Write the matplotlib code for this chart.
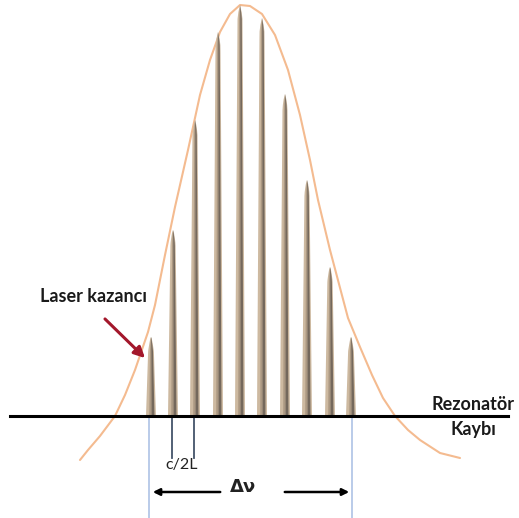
import numpy as np
import matplotlib.pyplot as plt

# longitudinal modes: position along the frequency axis and height above the loss line
mode_x = [151, 173, 195, 218, 240, 262, 285, 307, 330, 351]
mode_h = [79, 186, 296, 384, 411, 398, 322, 236, 149, 79]

# gain curve, read point by point (x, height above the loss line)
gain_x = [80, 88, 100, 115, 125, 135, 148, 155, 165, 175, 188, 200, 210, 220, 230, 240,
          250, 262, 275, 288, 300, 310, 318, 330, 348, 360, 372, 383, 395, 408, 420, 440, 460]
gain_y = [-44, -34, -20, 0, 21, 46, 84, 111, 161, 209, 266, 321, 356, 384, 402, 411,
          410, 402, 381, 346, 301, 256, 216, 166, 98, 69, 41, 18, 0, -14, -24, -37, -42]

fig = plt.figure(figsize=(5.19, 5.18), dpi=100)
ax = fig.add_axes([0, 0, 1, 1])
ax.set_xlim(0, 519)
ax.set_ylim(-102, 416)
ax.axis('off')

def spike(x, h):
    # needle shaped mode: pointed tip, slowly widening body
    d = np.linspace(0, h, 60)
    hw = 2.4 + 2.6 * d / h
    tip = np.clip(d / 14.0, 0, 1) ** 0.6
    hw = hw * tip
    ys = h - d
    xs = np.concatenate([x - hw, (x + hw)[::-1]])
    yy = np.concatenate([ys, ys[::-1]])
    ax.fill(xs, yy, color='#cdb9a0', lw=0, zorder=3)
    xs3 = np.concatenate([x - 0.35 * hw, (x + 0.1 * hw)[::-1]])
    ax.fill(xs3, yy, color='#ab9882', lw=0, zorder=4)
    xs2 = np.concatenate([x + 0.1 * hw, (x + 0.7 * hw)[::-1]])
    ax.fill(xs2, yy, color='#74685c', lw=0, zorder=4)

for i in range(len(mode_x)):
    spike(mode_x[i], mode_h[i])

ax.plot(gain_x, gain_y, color='#f4bb90', lw=1.5, zorder=2, solid_capstyle='round')

# resonator loss line
ax.plot([10, 508], [0, 0], color='black', lw=2.2, zorder=5)

# mode spacing and bandwidth markers
ax.plot([mode_x[0] - 2, mode_x[0] - 2], [-2, -102], color='#b4c7e7', lw=1.3, zorder=1)
ax.plot([mode_x[-1] + 1, mode_x[-1] + 1], [-2, -102], color='#b4c7e7', lw=1.3, zorder=1)
ax.plot([mode_x[1] - 1, mode_x[1] - 1], [-2, -42], color='#44546a', lw=1.3, zorder=1)
ax.plot([mode_x[2] - 1, mode_x[2] - 1], [-2, -42], color='#44546a', lw=1.3, zorder=1)
ax.text(182, -49, 'c/2L', fontsize=11.5, family=['Lato', 'DejaVu Sans'],
        ha='center', va='center', color='#222222')

ax.annotate('', xy=(mode_x[0] - 1, -76), xytext=(223, -76),
            arrowprops=dict(arrowstyle='-|>', color='black', lw=1.8, mutation_scale=10))
ax.annotate('', xy=(mode_x[-1] + 1, -76), xytext=(282, -76),
            arrowprops=dict(arrowstyle='-|>', color='black', lw=1.8, mutation_scale=10))
ax.text(243, -71, 'Δν', fontsize=13, fontweight='bold', family=['DejaVu Sans'],
        ha='center', va='center', color='#222222')

# labels
ax.text(93, 120, 'Laser kazancı', fontsize=13, fontweight='bold',
        family=['Lato', 'DejaVu Sans'], ha='center', va='center', color='#1a1a1a')
ax.annotate('', xy=(147, 56), xytext=(103, 99),
            arrowprops=dict(arrowstyle='-|>', color='#a3172b', lw=2.2, mutation_scale=16))
ax.text(473, 11, 'Rezonatör', fontsize=13, fontweight='bold',
        family=['Lato', 'DejaVu Sans'], ha='center', va='center', color='#1a1a1a')
ax.text(473, -13, 'Kaybı', fontsize=13, fontweight='bold',
        family=['Lato', 'DejaVu Sans'], ha='center', va='center', color='#1a1a1a')

fig.savefig('out.png', dpi=100)
